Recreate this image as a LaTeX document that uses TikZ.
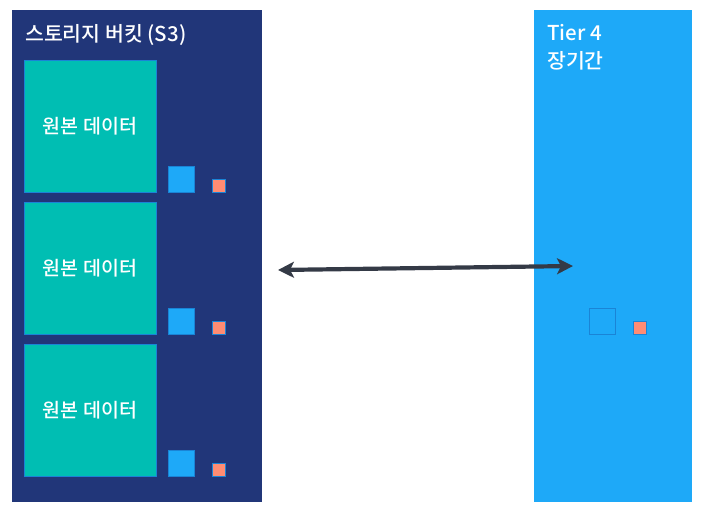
\documentclass[tikz,border=0pt]{standalone}
\usepackage{fontspec}
\setmainfont{Noto Sans CJK KR}[UprightFont={* Medium}]
\usetikzlibrary{arrows.meta, positioning}
\definecolor{bucketblue}{HTML}{213679}
\definecolor{tierblue}{HTML}{1EA9F8}
\definecolor{datateal}{HTML}{00BEB3}
\definecolor{edgeblue}{HTML}{1A84D6}
\definecolor{chunkorange}{HTML}{FF8C73}
\definecolor{arrowgray}{HTML}{343A46}
\begin{document}
\begin{tikzpicture}[
            x=1pt, y=-1pt,
            panel/.style={rectangle, draw=none, anchor=north west, inner sep=0pt},
            datablock/.style={rectangle, draw=edgeblue, line width=0.8pt, fill=datateal, minimum width=132pt, minimum height=132pt, text=white, font=\fontsize{19.5}{22}\selectfont},
            bluechunk/.style={rectangle, draw=edgeblue, line width=1pt, fill=tierblue, minimum size=26pt, inner sep=0pt},
            orangechunk/.style={rectangle, draw=edgeblue, line width=1pt, fill=chunkorange, minimum size=13pt, inner sep=0pt},
            label/.style={text=white, anchor=north west, align=left, inner sep=0pt, font=\fontsize{20.5}{28}\selectfont}
        ]
        \useasboundingbox (0,0) rectangle (711,514);

        \node[panel, fill=bucketblue, minimum width=250pt, minimum height=492pt] (bucket) at (12,10) {};
        \node[panel, fill=tierblue, minimum width=158pt, minimum height=492pt] (tier) at (534,10) {};

        \node[label] (bucketname) at (25,24) {스토리지 버킷 (S3)};
        \node[label] (tiername) at (547,24) {Tier 4\\장기간};

        % three copies of the source data
        \foreach \i/\y in {1/126, 2/268, 3/410} {
            \node[datablock] (data\i) at (90,\y) {원본 데이터};
            \node[bluechunk] (blue\i) at (181.5,\y+53) {};
            \node[orangechunk] (orange\i) at (219,\y+59.5) {};
        }

        \node[bluechunk, fill=none] (tierblue) at (602.5,321) {};
        \node[orangechunk] (tierorange) at (640,327.5) {};

        \coordinate (leftend) at (278,270);
        \coordinate (rightend) at (573,266);
        \draw[{Stealth[length=16pt,width=16pt,inset=4pt]}-{Stealth[length=16pt,width=16pt,inset=4pt]}, arrowgray, line width=4.2pt] (leftend) -- (rightend);

    \end{tikzpicture}
\end{document}
